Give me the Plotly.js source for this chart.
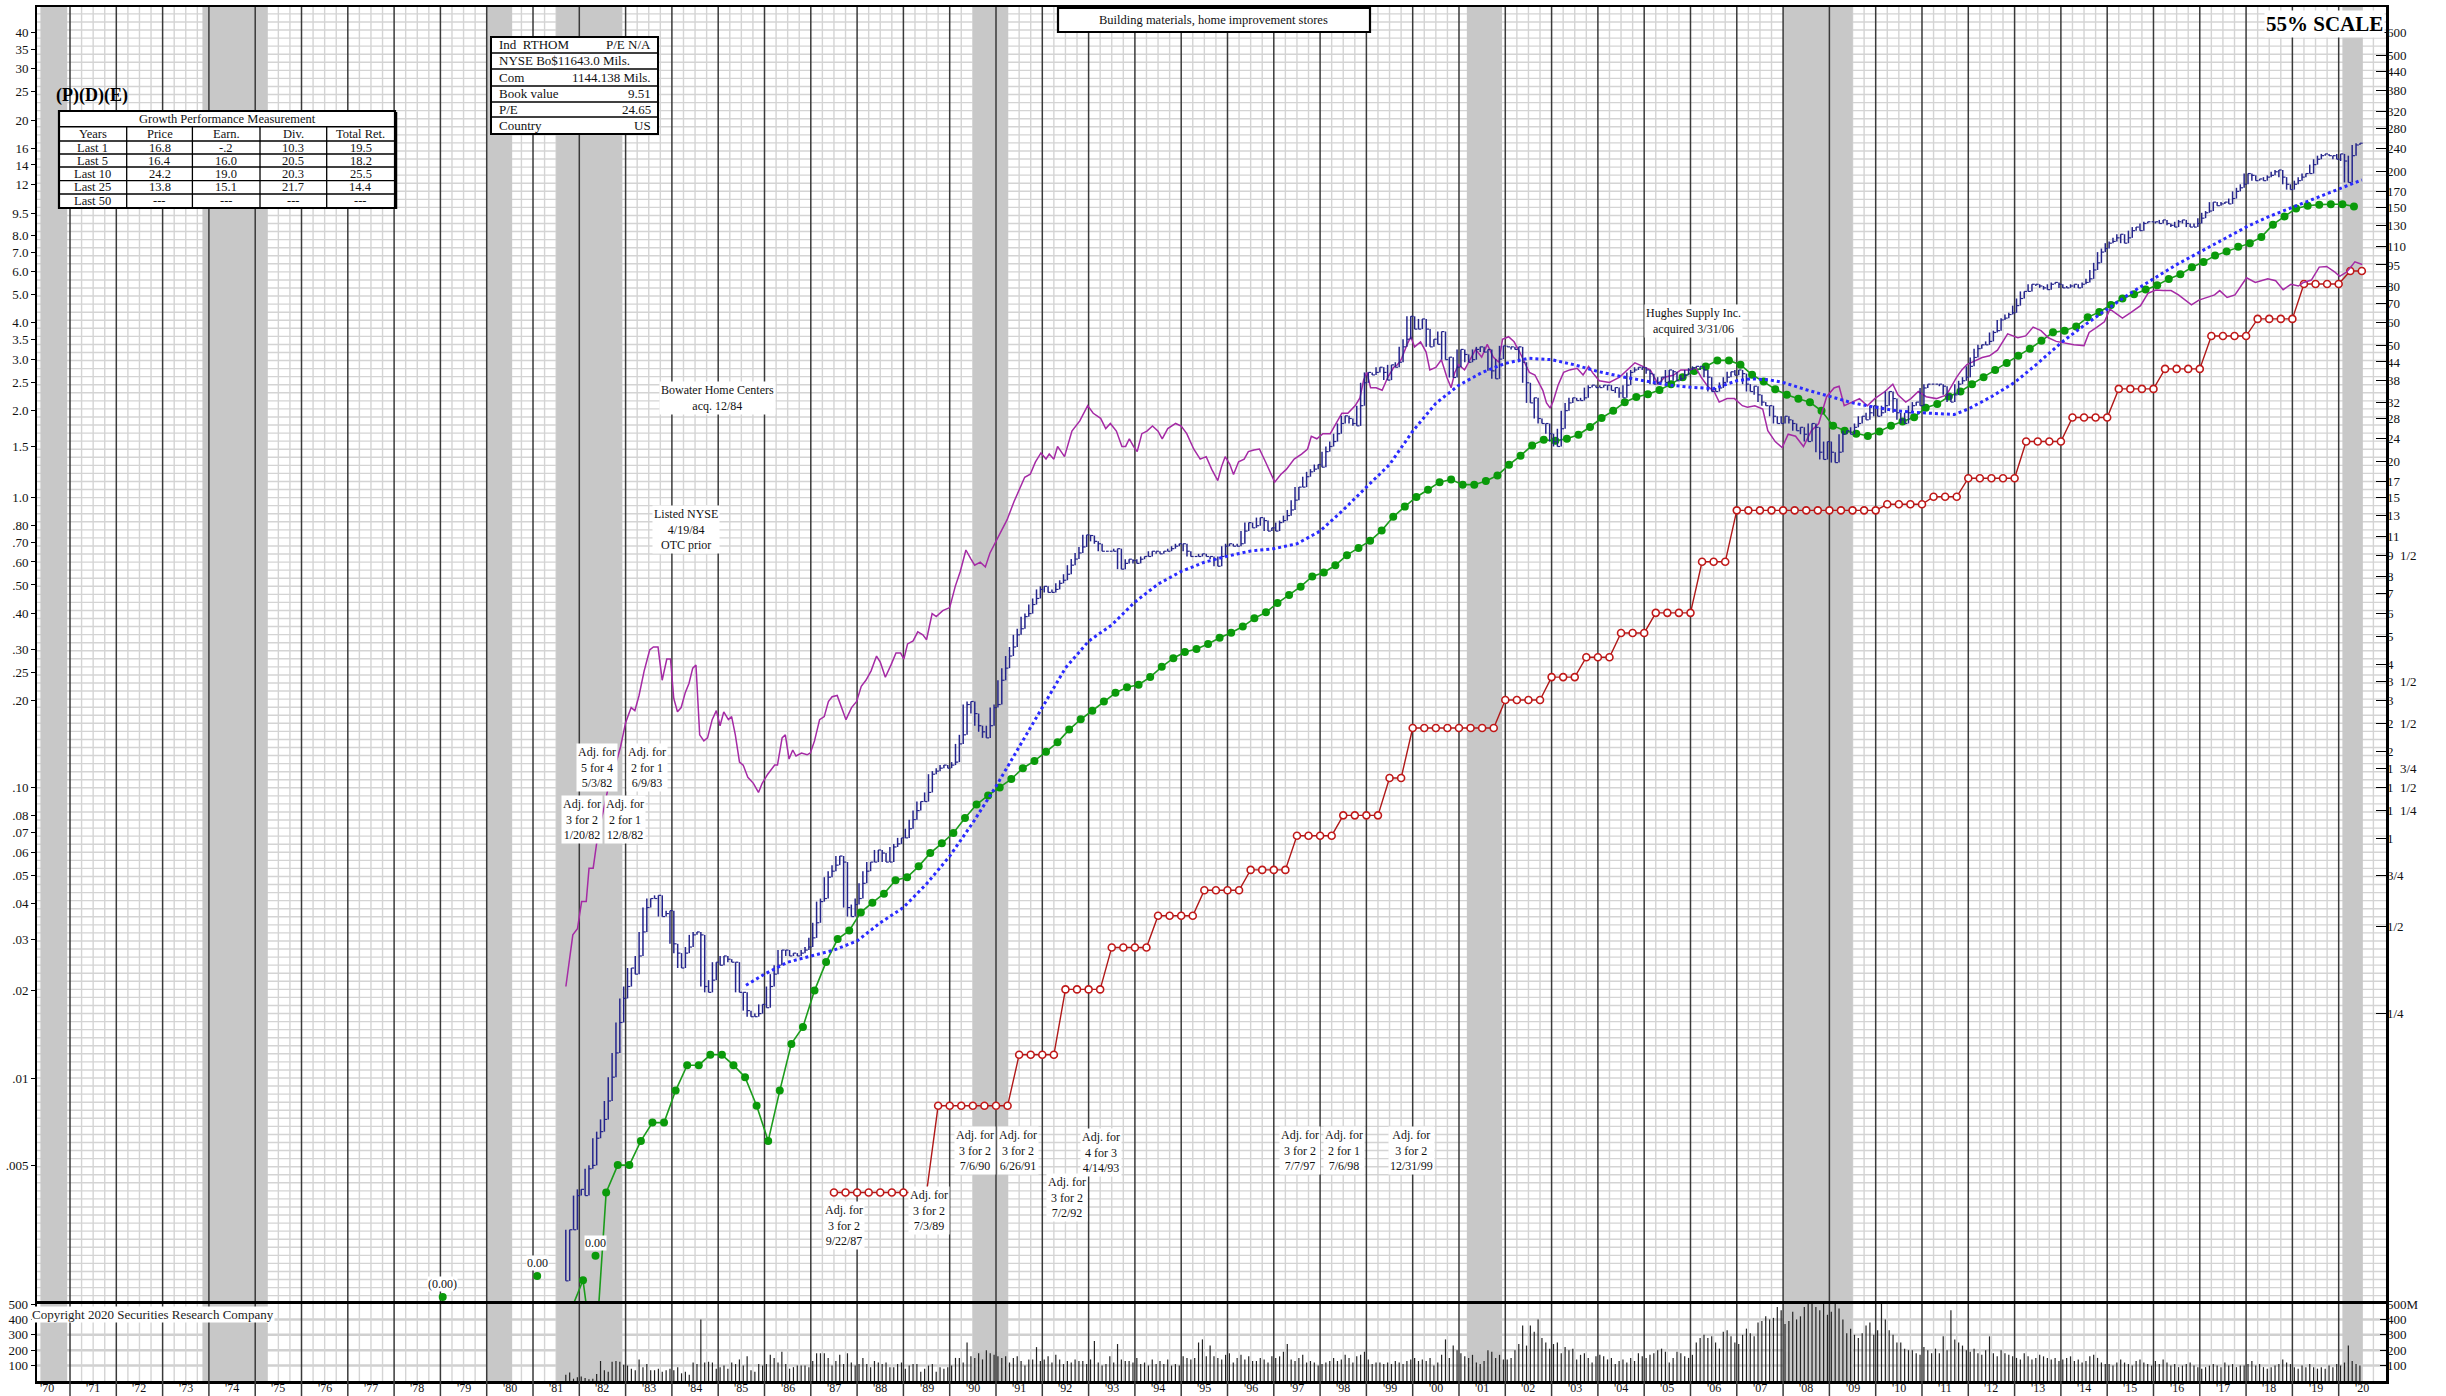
<!DOCTYPE html>
<html><head><meta charset="utf-8">
<script src="https://cdn.plot.ly/plotly-3.0.1.min.js"></script>
<style>html,body{margin:0;padding:0;background:#fff;}#chart{width:2446px;height:1396px;}</style>
</head><body><div id="chart"></div>
<script>
// ---------------- DATA ----------------
// Monthly closing prices (right scale, $), Sep 1981 .. Jun 2020
const priceStartYear = 1981, priceStartMonth = 8; // September 1981
const monthlyClose = [
0.030,0.045,0.045,0.059,
0.062,0.059,0.073,0.075,0.093,0.098,0.108,0.125,0.151,0.183,0.233,0.282,
0.310,0.359,0.342,0.395,0.478,0.580,0.623,0.623,0.639,0.540,0.553,0.566,
0.435,0.404,0.359,0.404,0.424,0.467,0.478,0.467,0.310,0.296,0.326,0.376,
0.367,0.395,0.385,0.376,0.376,0.296,0.296,0.256,0.244,0.244,0.250,0.269,
0.262,0.310,0.342,0.367,0.414,0.414,0.395,0.404,0.395,0.404,0.414,0.424,
0.456,0.514,0.608,0.623,0.738,0.774,0.812,0.873,0.832,0.580,0.540,0.594,
0.623,0.703,0.774,0.832,0.832,0.916,0.894,0.832,0.832,0.938,0.961,1.008,
1.008,1.084,1.165,1.252,1.345,1.345,1.446,1.671,1.712,1.753,1.796,1.753,
1.796,1.839,2.125,2.284,2.904,2.975,2.703,2.455,2.339,2.229,2.455,2.835,
2.904,3.521,3.876,4.267,4.585,5.049,5.298,5.833,5.975,6.422,6.738,7.240,
7.418,7.070,7.070,7.240,7.597,7.785,8.166,8.775,9.210,9.666,10.14,11.16,
11.1,10.6,10.4,9.8,9.8,9.8,9.8,10.0,8.5,8.9,9.2,9.1,
8.9,9.2,9.4,9.4,9.8,9.8,9.6,9.8,9.8,10.0,10.2,10.4,
10.4,9.8,9.4,9.4,9.4,9.6,9.4,9.4,9.2,8.7,9.4,10.2,
10.4,10.2,10.2,10.4,11.5,12.3,11.8,12.0,12.8,12.5,11.5,11.8,
11.5,12.3,12.5,13.0,13.6,14.7,16.3,16.3,17.7,18.4,18.8,19.5,
19.1,21.6,22.5,23.4,24.9,27.0,28.7,28.1,27.0,26.5,31.1,37.3,
40.5,39.7,40.5,42.2,40.5,38.1,43.0,42.2,43.9,49.6,52.7,63.2,
57.1,57.1,61.9,57.1,49.6,52.7,50.6,56.0,44.8,45.7,38.9,42.2,
48.6,46.7,43.9,44.8,48.6,49.6,47.6,48.6,41.0,38.5,45.0,50.0,
49.6,49.6,48.6,49.6,43.9,37.3,31.8,33.1,28.1,27.0,27.0,24.9,
23.4,22.5,25.9,29.9,31.8,33.1,32.4,32.4,33.1,35.9,36.6,35.9,
35.9,36.6,36.6,35.1,35.9,34.4,33.1,36.6,40.5,41.3,42.2,42.2,
41.3,40.1,36.9,37.4,39.0,37.4,41.3,40.7,37.9,38.5,39.6,41.3,
41.9,42.5,42.5,41.3,39.0,34.8,34.8,35.8,37.4,39.0,40.7,39.6,
41.3,40.1,36.9,34.8,36.3,33.9,32.0,31.1,31.1,28.6,27.0,27.0,
28.6,27.8,27.0,25.5,26.2,24.8,23.4,27.0,26.2,21.5,20.3,23.4,
21.5,19.8,21.5,24.8,25.5,24.8,26.2,27.0,28.6,27.8,29.4,31.1,
28.6,29.4,31.1,34.8,32.9,29.4,27.8,27.0,29.4,31.1,32.0,31.1,
35.8,36.9,36.9,36.9,36.9,36.3,33.9,32.0,33.9,36.9,37.9,39.0,
42.5,45.6,48.9,50.4,50.4,51.8,55.6,56.4,61.4,62.3,64.1,65.0,
68.8,72.8,77.0,77.0,81.5,81.5,80.4,79.2,78.1,81.5,82.7,81.5,
79.2,79.2,80.4,81.5,79.2,81.5,82.7,85.1,91.3,96.6,105.2,108.2,
112.9,114.5,117.8,121.2,112.9,117.8,124.7,128.3,124.7,132.0,133.8,133.8,
133.8,132.0,135.8,132.0,130.1,128.3,133.8,135.8,132.0,128.3,128.3,132.0,
137.7,143.7,145.7,156.4,152.0,154.2,156.4,154.2,160.9,170.3,175.2,180.2,
196.2,193.4,185.4,188.0,185.4,190.7,193.4,199.0,201.8,190.7,180.2,172.7,
180.2,185.4,190.7,196.2,196.2,210.6,219.8,226.1,229.3,226.1,226.1,219.8,
229.3,216.7,182.8,226.1,246.1,249.6
];

// Monthly volume (millions of shares), Sep 1981 .. Jun 2020
const monthlyVolume = [
40,55,15,25,
30,20,12,15,45,130,70,60,125,130,125,105,
100,80,70,140,90,110,70,70,80,60,70,80,
70,90,50,60,40,120,110,400,120,125,120,80,
90,100,80,120,110,140,100,160,70,60,110,100,
110,170,150,120,190,110,80,90,100,100,100,90,
130,180,180,180,150,100,130,170,110,180,120,100,
110,150,110,90,130,120,110,120,90,90,110,120,
80,100,110,110,60,80,100,110,60,90,80,90,
100,150,150,120,250,160,150,180,140,200,180,170,
160,150,160,120,150,160,130,100,140,140,220,130,
140,160,120,170,140,110,130,120,140,130,130,110,
140,260,120,100,110,160,120,240,140,130,130,120,
150,110,120,100,140,110,130,110,140,100,110,100,
160,150,140,150,250,270,160,230,160,150,140,170,
180,120,150,170,140,160,130,130,150,140,120,160,
150,160,190,240,140,130,150,170,120,130,120,100,
110,120,130,150,130,140,170,150,120,160,170,190,
140,110,120,120,110,120,110,130,120,110,130,140,
150,130,140,130,150,100,120,170,270,150,230,200,
180,160,150,170,120,110,130,200,190,150,170,140,
140,150,200,240,360,230,360,320,400,280,250,210,
240,250,180,220,200,210,140,170,180,150,120,160,
170,160,140,150,110,130,140,120,150,130,180,160,
150,170,180,200,210,190,120,150,190,180,160,150,
170,250,280,300,280,290,250,210,320,330,290,250,
240,300,340,310,290,380,390,420,400,410,480,460,
370,390,450,400,420,480,600,650,480,460,540,430,
450,560,470,400,310,340,300,280,310,360,380,300,
330,520,400,330,300,250,250,210,200,200,180,170,
220,200,180,210,180,290,200,460,270,250,230,200,
190,210,180,170,200,290,180,160,200,180,170,160,
150,140,180,160,140,150,170,160,150,140,150,130,
140,150,160,130,140,120,130,160,170,150,120,110,
110,100,120,140,120,110,100,130,140,120,110,100,
130,110,140,120,100,110,90,100,110,120,100,90,
80,90,100,110,100,90,120,100,110,90,100,100,
110,130,100,110,90,80,90,100,110,140,120,110,
90,80,100,90,110,90,80,90,80,100,90,110,
100,120,230,130,110,100
];

// Quarterly earnings per share (left scale), first point 1981.83
const earnStart = 1981.83;
const earnings = [
0.0016,
0.00201,0.0010,0.00403,0.00501,
0.00501,0.00607,0.00702,0.00702,
0.00905,0.01107,0.01107,0.01202,
0.01202,0.01107,0.01006,0.00802,
0.00607,0.00905,0.01311,0.01500,
0.02001,0.02508,0.03012,0.03221,
0.03721,0.04018,0.04317,0.04799,
0.04916,0.05361,0.05958,0.06437,
0.06985,0.07875,0.08756,0.09411,
0.1002,0.1072,0.1168,0.1238,
0.1330,0.1434,0.1587,0.1721,
0.1843,0.1983,0.2124,0.2221,
0.2266,0.2407,0.2611,0.2797,
0.2936,0.3008,0.3132,0.3289,
0.3424,0.3595,0.3836,0.4026,
0.4330,0.4621,0.4931,0.5346,
0.5522,0.5844,0.6335,0.6707,
0.7097,0.7695,0.8583,0.9309,
1.005,1.064,1.130,1.154,
1.108,1.108,1.140,1.192,
1.297,1.395,1.513,1.582,
1.569,1.595,1.647,1.751,
1.88,1.99,2.13,2.22,
2.27,2.35,2.46,2.60,
2.73,2.83,2.97,2.97,
2.87,2.65,2.51,2.36,
2.26,2.19,2.13,1.99,
1.77,1.70,1.66,1.63,
1.69,1.77,1.83,1.89,
2.04,2.10,2.23,2.32,
2.46,2.60,2.75,2.91,
3.08,3.26,3.47,3.71,
3.76,3.89,4.18,4.36,
4.61,4.85,5.02,5.21,
5.39,5.67,5.88,6.22,
6.48,6.82,7.05,7.32,
7.53,7.90,8.72,9.31,
9.91,10.13,10.22,10.25,
10.25,10.08
];
// Early annual earnings dots with their labels
const earlyEarnT = [1979.05, 1981.09, 1982.35];
const earlyEarnV = [0.00176, 0.00208, 0.00244];
const earlyEarnLabels = ['(0.00)', '0.00', '0.00'];

// Quarterly dividends (left scale), first point 1987.5
const divStart = 1987.5;
const dividends = [
0.00403,0.00403,0.00403,0.00403,0.00403,0.00403,0.00403,0.00403,0.00403,
0.00802,0.00802,0.00802,0.00802,0.00802,0.00802,0.00802,
0.01202,0.01202,0.01202,0.01202,
0.0202,0.0202,0.0202,0.0202,
0.02818,0.02818,0.02818,0.02818,
0.03622,0.03622,0.03622,0.03622,
0.04434,0.04434,0.04434,0.04434,
0.05214,0.05214,0.05214,0.05214,
0.06838,0.06838,0.06838,0.06838,
0.08037,0.08037,0.08037,0.08037,
0.1081,0.1081,
0.1607,0.1607,0.1607,0.1607,0.1607,0.1607,0.1607,0.1607,
0.2007,0.2007,0.2007,0.2007,
0.2407,0.2407,0.2407,
0.2819,0.2819,0.2819,
0.3416,0.3416,0.3416,
0.4007,0.4007,0.4007,0.4007,
0.6009,0.6009,0.6009,
0.9037,0.9037,0.9037,0.9037,0.9037,0.9037,0.9037,0.9037,0.9037,0.9037,0.9037,0.9037,0.9037,
0.9482,0.9482,0.9482,0.9482,
1.0065,1.0065,1.0065,
1.166,1.166,1.166,1.166,1.166,
1.561,1.561,1.561,1.561,
1.888,1.888,1.888,1.888,
2.369,2.369,2.369,2.369,
2.776,2.776,2.776,2.776,
3.603,3.603,3.603,3.603,
4.128,4.128,4.128,4.128,
5.448,5.448,5.448,5.448,
6.034,6.034
];

// Moving average (right scale) [year, value]
const movingAvg = [
[1985.6,0.313],[1986.0,0.342],[1986.5,0.376],[1987.0,0.395],[1987.5,0.414],[1988.0,0.445],[1988.5,0.514],
[1989.0,0.580],[1989.5,0.70],[1990.0,0.872],[1990.5,1.137],[1991.0,1.517],[1991.5,2.07],[1992.0,2.84],
[1992.5,3.88],[1993.0,4.8],[1993.5,5.46],[1994.0,6.55],[1994.5,7.55],[1995.0,8.35],[1995.5,8.98],[1996.0,9.43],
[1996.5,9.82],[1997.0,10.0],[1997.5,10.4],[1998.0,11.5],[1998.5,13.6],[1999.0,16.3],[1999.5,19.5],[2000.0,25.4],
[2000.5,31.7],[2001.0,36.6],[2001.5,40.5],[2002.0,43.5],[2002.5,45.3],[2003.0,44.8],[2003.5,43.0],[2004.0,40.8],
[2004.5,39.2],[2005.0,37.9],[2005.5,36.7],[2006.0,36.0],[2006.5,35.6],[2007.0,37.9],[2007.3,38.5],[2007.7,38.2],
[2008.0,37.4],[2008.5,35.3],[2009.0,33.4],[2009.5,31.8],[2010.0,30.7],[2010.5,29.8],[2011.0,29.4],[2011.5,29.0],
[2011.7,29.0],[2012.0,30.3],[2012.5,33.4],[2013.0,37.4],[2013.5,43.5],[2014.0,51.2],[2014.5,58.8],[2015.0,66.9],
[2015.5,75.9],[2016.0,85.1],[2016.5,95.3],[2017.0,105.2],[2017.5,116.2],[2018.0,128.3],[2018.5,139.6],
[2019.0,149.9],[2019.5,160.9],[2020.0,172.7],[2020.5,186.5]
];

// Relative strength line (right scale units) [year, value]
const relStrength = [
[1981.71,0.310],[1981.86,0.467],[1981.96,0.490],[1982.05,0.608],[1982.15,0.608],[1982.21,0.793],[1982.30,0.793],
[1982.40,1.033],[1982.52,1.252],[1982.63,1.517],[1982.76,1.753],[1982.89,2.074],[1983.00,2.514],[1983.12,2.835],
[1983.20,2.768],[1983.29,3.121],[1983.40,3.786],[1983.52,4.478],[1983.60,4.585],[1983.70,4.585],[1983.79,3.521],
[1983.89,4.165],[1983.97,4.165],[1984.04,3.047],[1984.12,2.741],[1984.20,2.835],[1984.29,3.197],[1984.37,3.437],
[1984.45,3.876],[1984.52,3.970],[1984.60,2.284],[1984.69,2.176],[1984.77,2.229],[1984.87,2.576],[1984.96,2.768],
[1985.04,2.455],[1985.12,2.741],[1985.22,2.576],[1985.29,2.638],[1985.37,2.284],[1985.46,1.839],[1985.54,1.796],
[1985.64,1.631],[1985.76,1.554],[1985.87,1.446],[1985.95,1.554],[1986.07,1.671],[1986.22,1.796],[1986.28,1.796],
[1986.38,2.229],[1986.45,2.284],[1986.53,1.884],[1986.61,2.025],[1986.68,1.930],[1986.80,1.977],[1986.92,1.949],
[1986.99,1.977],[1987.08,2.176],[1987.19,2.576],[1987.29,2.638],[1987.38,2.975],[1987.46,3.091],[1987.57,3.121],
[1987.67,2.835],[1987.76,2.576],[1987.88,2.835],[1987.99,2.975],[1988.09,3.356],[1988.19,3.521],[1988.30,3.786],
[1988.42,4.267],[1988.50,4.067],[1988.61,3.606],[1988.73,3.970],[1988.84,4.370],[1988.94,4.370],[1989.01,4.165],
[1989.09,4.697],[1989.21,4.812],[1989.31,5.171],[1989.42,5.049],[1989.50,4.858],[1989.62,5.975],[1989.71,5.833],
[1989.85,6.119],[1990.00,6.268],[1990.12,7.418],[1990.23,8.363],[1990.35,9.897],[1990.46,9.210],[1990.54,8.775],
[1990.66,8.989],[1990.77,8.651],[1990.87,9.666],[1990.97,10.38],[1991.12,11.43],[1991.24,12.59],[1991.39,14.54],
[1991.51,16.01],[1991.62,17.62],[1991.74,18.06],[1991.85,19.88],[1991.97,21.37],[1992.08,20.37],
[1992.15,21.19],[1992.25,20.35],[1992.33,22.51],[1992.48,20.76],[1992.64,25.42],[1992.81,27.56],[1992.98,31.12],
[1993.10,29.29],[1993.26,28.13],[1993.37,25.94],[1993.47,27.01],[1993.60,25.42],[1993.72,22.51],[1993.80,22.51],
[1993.88,23.92],[1993.97,22.51],[1994.05,21.62],[1994.15,24.91],[1994.26,25.42],[1994.38,26.47],[1994.50,25.42],
[1994.59,23.92],[1994.71,25.94],[1994.88,27.01],[1995.00,26.47],[1995.12,24.91],[1995.27,22.06],[1995.41,20.35],
[1995.54,20.76],[1995.66,18.76],[1995.79,17.16],[1995.87,19.14],[1995.95,20.76],[1996.05,19.54],[1996.13,18.02],
[1996.24,19.94],[1996.36,20.35],[1996.45,21.62],[1996.57,21.88],[1996.69,22.06],[1996.82,19.94],[1996.94,18.02],
[1997.02,16.96],[1997.15,18.02],[1997.27,18.76],[1997.44,20.35],[1997.60,21.19],[1997.73,22.06],[1997.81,24.41],
[1997.93,23.92],[1998.06,24.91],[1998.22,24.91],[1998.35,27.01],[1998.47,29.29],[1998.60,29.29],[1998.76,31.12],
[1998.86,33.07],[1998.94,38.11],[1999.01,40.50],[1999.09,35.85],[1999.21,35.85],[1999.34,35.14],[1999.46,38.89],
[1999.59,42.17],[1999.67,43.03],[1999.75,44.80],[1999.88,50.59],[1999.96,53.76],[2000.04,49.58],[2000.17,51.63],
[2000.29,47.61],[2000.37,41.31],[2000.50,42.17],[2000.62,44.80],[2000.74,38.89],[2000.83,35.85],[2000.91,40.50],
[2000.99,43.03],[2001.12,41.31],[2001.24,44.80],[2001.36,48.58],[2001.49,45.72],[2001.61,50.59],[2001.74,45.72],
[2001.86,43.90],[2001.94,52.68],[2002.07,53.76],[2002.19,51.63],[2002.31,47.61],[2002.44,43.03],[2002.52,40.50],
[2002.64,39.68],[2002.73,37.34],[2002.81,35.14],[2002.89,31.77],[2002.97,30.50],[2003.04,32.42],[2003.14,36.60],
[2003.26,40.50],[2003.39,41.31],[2003.55,41.83],[2003.68,39.68],[2003.80,42.51],[2003.88,40.50],
[2004.03,37.9],[2004.25,37.4],[2004.47,39.0],[2004.64,41.3],[2004.80,43.7],[2004.97,42.5],[2005.13,41.3],
[2005.30,36.9],[2005.44,39.0],[2005.63,39.6],[2005.79,41.3],[2005.96,41.3],[2006.12,41.9],[2006.23,39.0],
[2006.37,36.3],[2006.51,34.8],[2006.62,32.0],[2006.79,32.9],[2006.95,32.9],[2007.12,31.1],[2007.23,30.7],
[2007.39,31.1],[2007.56,30.3],[2007.67,25.5],[2007.83,23.4],[2007.98,22.3],[2008.11,24.8],[2008.27,24.4],
[2008.44,22.5],[2008.61,25.5],[2008.77,27.0],[2008.94,33.4],[2009.10,35.8],[2009.21,36.3],[2009.32,31.1],
[2009.49,32.0],[2009.65,32.9],[2009.82,31.1],[2009.98,32.9],[2010.20,34.8],[2010.37,36.9],[2010.48,33.9],
[2010.65,32.0],[2010.76,32.9],[2010.92,34.8],[2011.09,33.4],[2011.31,32.9],[2011.53,33.9],[2011.75,39.0],
[2011.86,41.3],[2011.97,43.1],[2012.13,44.3],[2012.30,45.6],[2012.46,46.2],[2012.63,48.3],[2012.85,55.0],
[2013.07,53.3],[2013.24,54.1],[2013.40,58.0],[2013.57,56.4],[2013.73,53.3],[2013.90,51.8],[2014.06,51.1],
[2014.28,50.4],[2014.50,50.1],[2014.61,55.6],[2014.78,58.0],[2014.94,60.5],[2015.06,66.9],[2015.17,65.0],
[2015.33,62.3],[2015.50,65.0],[2015.72,68.8],[2015.88,75.9],[2016.05,77.9],[2016.21,77.5],[2016.38,77.5],
[2016.54,74.9],[2016.65,72.8],[2016.82,69.2],[2016.98,71.9],[2017.15,73.2],[2017.32,74.9],[2017.43,77.5],
[2017.59,73.4],[2017.76,74.9],[2017.87,79.2],[2018.01,85.8],[2018.20,82.7],[2018.31,83.8],[2018.47,85.1],
[2018.64,83.8],[2018.80,78.1],[2018.97,81.5],[2019.13,80.4],[2019.24,82.7],[2019.41,84.3],[2019.58,93.4],
[2019.74,93.9],[2019.91,90.0],[2020.02,86.8],[2020.18,90.0],[2020.35,97.4],[2020.51,95.3]
];

// Recession periods [start, end]
const recessions = [[1970.36,1970.94],[1973.86,1975.27],[1980.0,1980.55],[1981.5,1982.93],
  [1990.5,1991.26],[2001.17,2001.93],[2008.0,2009.5],[2020.08,2020.52]];

// Tick labels
const leftTickVals = [40,35,30,25,20,16,14,12,9.5,8,7,6,5,4,3.5,3,2.5,2,1.5,1,0.8,0.7,0.6,0.5,0.4,0.3,0.25,0.2,0.1,0.08,0.07,0.06,0.05,0.04,0.03,0.02,0.01,0.005];
const leftTickText = ['40','35','30','25','20','16','14','12','9.5','8.0','7.0','6.0','5.0','4.0','3.5','3.0','2.5','2.0','1.5','1.0','.80','.70','.60','.50','.40','.30','.25','.20','.10','.08','.07','.06','.05','.04','.03','.02','.01','.005'];
const rightTickVals = [600,500,440,380,320,280,240,200,170,150,130,110,95,80,70,60,50,44,38,32,28,24,20,17,15,13,11,9.5,8,7,6,5,4,3.5,3,2.5,2,1.75,1.5,1.25,1,0.75,0.5,0.25];
const rightTickText = ['600','500','440','380','320','280','240','200','170','150','130','110','95','80','70','60','50','44','38','32','28','24','20','17','15','13','11','9  1/2','8','7','6','5','4','3  1/2','3','2  1/2','2','1  3/4','1  1/2','1  1/4','1','3/4','1/2','1/4'];
const volTickVals = [100,200,300,400,500];
const volLeftText = ['100','200','300','400','500'];
const volRightText = ['100','200','300','400','500M'];
const yearTickVals = [1970,1971,1972,1973,1974,1975,1976,1977,1978,1979,1980,1981,1982,1983,1984,1985,1986,1987,1988,1989,1990,1991,1992,1993,1994,1995,1996,1997,1998,1999,2000,2001,2002,2003,2004,2005,2006,2007,2008,2009,2010,2011,2012,2013,2014,2015,2016,2017,2018,2019,2020];
const yearLabels = ["'70","'71","'72","'73","'74","'75","'76","'77","'78","'79","'80","'81","'82","'83","'84","'85","'86","'87","'88","'89","'90","'91","'92","'93","'94","'95","'96","'97","'98","'99","'00","'01","'02","'03","'04","'05","'06","'07","'08","'09","'10","'11","'12","'13","'14","'15","'16","'17","'18","'19","'20"];

// Tables
const growthHeaders = ['Years','Price','Earn.','Div.','Total Ret.'];
const growthRows = [
  ['Last 1','16.8','-.2','10.3','19.5'],
  ['Last 5','16.4','16.0','20.5','18.2'],
  ['Last 10','24.2','19.0','20.3','25.5'],
  ['Last 25','13.8','15.1','21.7','14.4'],
  ['Last 50','---','---','---','---']
];
const infoLeft = ['Ind  RTHOM','NYSE Bo$11643.0 Mils.','Com','Book value','P/E','Country'];
const infoRight = ['P/E N/A','','1144.138 Mils.','9.51','24.65','US'];

// ---------------- LAYOUT HELPERS ----------------
const L = 37, R = 2386, TOP = 7, BOT = 1381;
const PX = p => (p - L) / (R - L);
const PY = p => (BOT - p) / (BOT - TOP);
const LOG15 = Math.log10(15);
const yLo = -2.7684, yHi = 1.6905;
const X0 = 1970.287, X1 = 2021.022;
const FONT = 'Liberation Serif, Times New Roman, serif';
const GRID = '#d4d4d4', BAND = '#c8c8c8', YEARLINE = '#3a3a3a';

// ---------------- RULINGS (drawn as traces so their stacking is explicit) ----------------
const pLo = Math.pow(10, yLo - 0.1), pHi = Math.pow(10, yHi + 0.1);
const hgX = [], hgY = [];
for (let k = Math.ceil(yLo * 36); k <= Math.floor(yHi * 36); k++) {
  const g = Math.pow(10, k / 36); hgX.push(X0, X1, null); hgY.push(g, g, null);
}
const qX = [], qY = [], qVY = [];
for (let y = 1970; y <= 2021; y++) [0.25, 0.5, 0.75].forEach(q => {
  qX.push(y + q, y + q, null); qY.push(pLo, pHi, null); qVY.push(-50, 600, null);
});
const bX = [], bY = [], bVY = [];
recessions.forEach(r => {
  bX.push(r[0], r[1], r[1], r[0], r[0], null);
  bY.push(pLo, pLo, pHi, pHi, pLo, null);
  bVY.push(-50, -50, 600, 600, -50, null);
});
const ylX = [], ylY = [], ylVY = [];
for (let y = 1971; y <= 2020; y++) { ylX.push(y, y, null); ylY.push(pLo, pHi, null); ylVY.push(-50, 600, null); }
const vgX = [], vgY = [];
[100, 200, 300, 400].forEach(v => { vgX.push(X0, X1, null); vgY.push(v, v, null); });

// ---------------- DATA TRACES ----------------
const monthT = i => priceStartYear + (priceStartMonth + i + 0.5) / 12;
const barX = [], barY = [], tkX = [], tkY = [];
monthlyClose.forEach((c, i) => {
  const p = i > 0 ? monthlyClose[i-1] : c;
  const n = i < monthlyClose.length - 1 ? monthlyClose[i+1] : c;
  const t = monthT(i);
  barX.push(t, t, null); barY.push(Math.min(p, c, n), Math.max(p, c, n), null);
  tkX.push(t, t + 0.06, null); tkY.push(c, c, null);
});
const volX = [], volY = [];
monthlyVolume.forEach((v, i) => { const t = monthT(i); volX.push(t, t, null); volY.push(0, v, null); });

const rl = (x, y, ax, color, width, extra) => Object.assign({x, y, xaxis:'x', yaxis:ax, mode:'lines',
  line:{color, width}, hoverinfo:'skip'}, extra || {});

const traces = [
  // price panel rulings
  rl(hgX, hgY, 'y', GRID, 1.4),
  rl(qX, qY, 'y', GRID, 1.4),
  rl(bX, bY, 'y', BAND, 0, {fill:'toself', fillcolor:BAND}),
  rl(ylX, ylY, 'y', YEARLINE, 1.5),
  // volume panel rulings
  rl(vgX, vgY, 'y3', '#d0d0d0', 2.5),
  rl(qX, qVY, 'y3', GRID, 1.4),
  rl(bX, bVY, 'y3', BAND, 0, {fill:'toself', fillcolor:BAND}),
  rl(ylX, ylVY, 'y3', YEARLINE, 1.5),
  {x:[null], y:[null], xaxis:'x', yaxis:'y4', mode:'lines', hoverinfo:'skip'},
  {x:[null], y:[null], xaxis:'x', yaxis:'y5', mode:'lines', hoverinfo:'skip'},
  // data
  rl(volX, volY, 'y3', '#222', 1.2),
  {x: dividends.map((_, i) => divStart + 0.25 * i), y: dividends, xaxis:'x', yaxis:'y', mode:'lines+markers',
   line:{color:'#b01818', width:1.4}, marker:{symbol:'circle', size:7, color:'#fff', line:{color:'#c01818', width:1.6}}},
  {x: earnings.map((_, i) => earnStart + 0.25 * i), y: earnings, xaxis:'x', yaxis:'y', mode:'lines+markers',
   line:{color:'#1c9c1c', width:1.6}, marker:{size:8, color:'#0a9a0a'}},
  {x: earlyEarnT, y: earlyEarnV, xaxis:'x', yaxis:'y', mode:'markers', marker:{size:8, color:'#0a9a0a'}},
  rl(relStrength.map(d => d[0]), relStrength.map(d => d[1]), 'y2', '#a52aa5', 1.5),
  rl(barX, barY, 'y2', '#25258c', 1.5),
  rl(tkX, tkY, 'y2', '#25258c', 1.2),
  rl(movingAvg.map(d => d[0]), movingAvg.map(d => d[1]), 'y2', '#2a2aff', 3, {line:{color:'#2a2aff', width:3, dash:'dot'}})
];

// ---------------- SHAPES (boxes + year separators under the axis) ----------------
const shapes = [];
for (let y = 1971; y <= 2020; y++)
  shapes.push({type:'line', xref:'x', yref:'paper', x0:y, x1:y, y0:PY(1396), y1:PY(BOT), layer:'above', line:{color:YEARLINE, width:1.5}});
function rectP(x0, y0, x1, y1, w) {
  return {type:'rect', xref:'paper', yref:'paper', x0:PX(x0), x1:PX(x1), y0:PY(y1), y1:PY(y0), layer:'above', fillcolor:'#fff', line:{color:'#000', width:w}};
}
function lineP(x0, y0, x1, y1, w) {
  return {type:'line', xref:'paper', yref:'paper', x0:PX(x0), x1:PX(x1), y0:PY(y0), y1:PY(y1), layer:'above', line:{color:'#000', width:w}};
}
const gCols = [59, 126.7, 192.4, 260, 326.7, 395];
const gRows = [111, 126.7, 141, 154, 167, 180.7, 194, 208];
shapes.push(rectP(59, 111, 395, 208, 2.2));
for (let k = 1; k < gRows.length - 1; k++) shapes.push(lineP(59, gRows[k], 395, gRows[k], k < 2 ? 1.5 : 1.3));
for (let k = 1; k < gCols.length - 1; k++) shapes.push(lineP(gCols[k], 126.7, gCols[k], 208, 1.3));
shapes.push(lineP(396.5, 112, 396.5, 209, 1.5));
const iRows = [37, 53, 69, 86, 102, 117, 134];
shapes.push(rectP(491, 37, 658, 134, 2));
for (let k = 1; k < iRows.length - 1; k++) shapes.push(lineP(491, iRows[k], 658, iRows[k], 1.5));
shapes.push(rectP(1058, 8, 1370, 32, 2.2));

// ---------------- ANNOTATIONS ----------------
const annotations = [];
function ann(x, y, text, o) {
  annotations.push(Object.assign({xref:'paper', yref:'paper', x:PX(x), y:PY(y), text, showarrow:false,
    xanchor:'center', yanchor:'middle', font:{family:FONT, size:12, color:'#111'}}, o || {}));
}
const tf = {family:FONT, size:12.5, color:'#111'};
ann(227, 119, 'Growth Performance Measurement', {font:tf});
growthHeaders.forEach((h, c) => ann((gCols[c] + gCols[c+1]) / 2, 134, h, {font:tf}));
growthRows.forEach((row, r) => row.forEach((v, c) =>
  ann((gCols[c] + gCols[c+1]) / 2, (gRows[r+2] + gRows[r+3]) / 2, v, {font:tf})));
infoLeft.forEach((t, r) => ann(497, (iRows[r] + iRows[r+1]) / 2, t, {xanchor:'left', font:{family:FONT, size:13, color:'#111'}}));
infoRight.forEach((t, r) => { if (t) ann(653, (iRows[r] + iRows[r+1]) / 2, t, {xanchor:'right', font:{family:FONT, size:13, color:'#111'}}); });
ann(1214, 20, 'Building materials, home improvement stores', {font:tf});
ann(2324, 24, '<b>55% SCALE</b>', {font:{family:FONT, size:21, color:'#000'}, bgcolor:'#fff'});
ann(92, 95, '<b>(P)(D)(E)</b>', {font:{family:FONT, size:18, color:'#000'}});
ann(31, 1314, 'Copyright 2020 Securities Research Company', {xanchor:'left', bgcolor:'#fff', borderpad:0, font:{family:FONT, size:13, color:'#222'}});
yearTickVals.forEach((y, i) => annotations.push({xref:'x', yref:'paper', x:y + 0.5, y:PY(1396), text:yearLabels[i],
  showarrow:false, xanchor:'center', yanchor:'bottom', borderpad:0, font:{family:FONT, size:12, color:'#111'}}));

const notes = [
  [717, 398, 'Bowater Home Centers<br>acq. 12/84'],
  [686, 529, 'Listed NYSE<br>4/19/84<br>OTC prior'],
  [597, 768, 'Adj. for<br>5 for 4<br>5/3/82'],
  [647, 768, 'Adj. for<br>2 for 1<br>6/9/83'],
  [582, 819, 'Adj. for<br>3 for 2<br>1/20/82'],
  [625, 819, 'Adj. for<br>2 for 1<br>12/8/82'],
  [844, 1225, 'Adj. for<br>3 for 2<br>9/22/87'],
  [929, 1210, 'Adj. for<br>3 for 2<br>7/3/89'],
  [975, 1150, 'Adj. for<br>3 for 2<br>7/6/90'],
  [1018, 1150, 'Adj. for<br>3 for 2<br>6/26/91'],
  [1067, 1197, 'Adj. for<br>3 for 2<br>7/2/92'],
  [1101, 1152, 'Adj. for<br>4 for 3<br>4/14/93'],
  [1300, 1150, 'Adj. for<br>3 for 2<br>7/7/97'],
  [1344, 1150, 'Adj. for<br>2 for 1<br>7/6/98'],
  [1411, 1150, 'Adj. for<br>3 for 2<br>12/31/99'],
  [1693, 321, 'Hughes Supply Inc.<br>acquired 3/31/06']
];
notes.forEach(n => ann(n[0], n[1], n[2], {bgcolor:'#fff', borderpad:1}));
earlyEarnT.forEach((t, i) => annotations.push({xref:'x', yref:'y', x:t, y:Math.log10(earlyEarnV[i]), text:earlyEarnLabels[i],
  showarrow:false, xanchor:'center', yanchor:'bottom', yshift:5, bgcolor:'#fff', borderpad:0,
  font:{family:FONT, size:12, color:'#111'}}));

// ---------------- AXES ----------------
const axFont = {family:FONT, size:13, color:'#111'};
const layout = {
  width:2446, height:1396, paper_bgcolor:'#fff', plot_bgcolor:'#fff',
  margin:{l:L, r:2446 - R, t:TOP, b:1396 - BOT},
  showlegend:false, hovermode:false,
  xaxis:{domain:[0,1], anchor:'y3', range:[X0, X1], showticklabels:false, ticks:'', showgrid:false, zeroline:false,
    showline:true, linecolor:'#000', linewidth:2.5, mirror:'all'},
  yaxis:{domain:[PY(1301), 1], anchor:'x', type:'log', range:[yLo, yHi], showticklabels:false, ticks:'',
    showgrid:false, zeroline:false, showline:true, linecolor:'#000', linewidth:2.5, mirror:true},
  yaxis5:{overlaying:'y', anchor:'x', side:'left', type:'log', range:[yLo, yHi], tickmode:'array',
    tickvals:leftTickVals, ticktext:leftTickText, ticks:'outside', ticklen:5, tickcolor:'#000',
    showgrid:false, zeroline:false, showline:false, tickfont:axFont},
  yaxis2:{overlaying:'y', anchor:'x', side:'right', type:'log', range:[yLo + LOG15, yHi + LOG15], tickmode:'array',
    tickvals:rightTickVals, ticktext:rightTickText, ticks:'inside', ticklen:10, tickcolor:'#000',
    showgrid:false, zeroline:false, showline:false, tickfont:axFont},
  yaxis3:{domain:[0, PY(1304)], anchor:'x', range:[0, 500], tickmode:'array', tickvals:volTickVals, ticktext:volLeftText,
    ticks:'outside', ticklen:4, tickcolor:'#000', showgrid:false, zeroline:false,
    showline:true, linecolor:'#000', linewidth:2.5, mirror:true, tickfont:axFont},
  yaxis4:{overlaying:'y3', anchor:'x', side:'right', range:[0, 500], tickmode:'array', tickvals:volTickVals, ticktext:volRightText,
    ticks:'inside', ticklen:6, tickcolor:'#000', showgrid:false, zeroline:false, showline:false, tickfont:axFont},
  shapes, annotations
};

Plotly.newPlot('chart', traces, layout, {staticPlot:true, displayModeBar:false});
</script></body></html>
